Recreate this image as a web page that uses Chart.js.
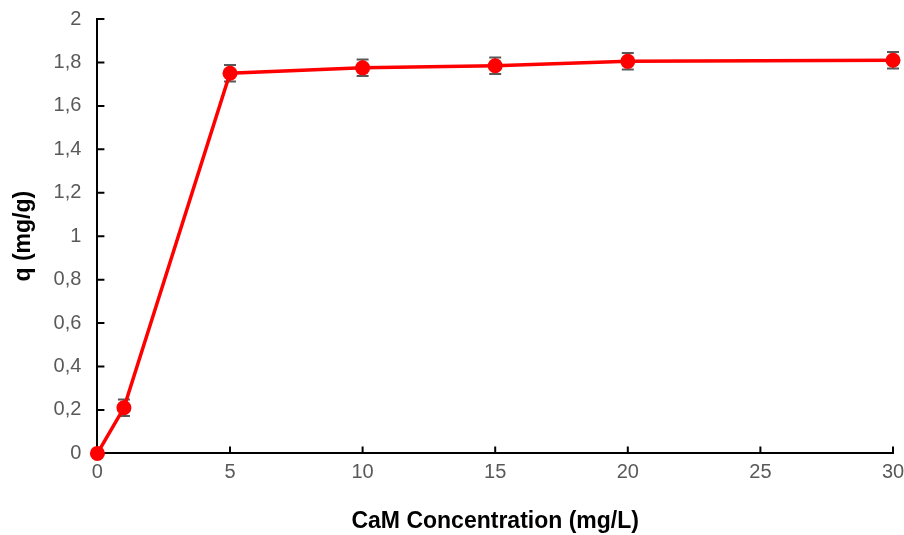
<!DOCTYPE html>
<html>
<head>
<meta charset="utf-8">
<script src="https://cdn.jsdelivr.net/npm/chart.js@4.4.1/dist/chart.umd.min.js"></script>
<style>
  html, body { margin: 0; padding: 0; background: #fff; }
  #wrap { width: 904px; height: 535px; }
</style>
</head>
<body>
<div id="wrap"><canvas id="chart"></canvas></div>
<script>
const concentrations = [0, 1, 5, 10, 15, 20, 30];
const qValues = [0, 0.21, 1.75, 1.775, 1.785, 1.805, 1.81];
const qErrors = [0, 0.038, 0.038, 0.038, 0.038, 0.038, 0.038];
const xTicks = [0, 5, 10, 15, 20, 25, 30];
const yTicks = [0, 0.2, 0.4, 0.6, 0.8, 1, 1.2, 1.4, 1.6, 1.8, 2];

// error bars + inside tick marks
const extras = {
  id: 'extras',
  beforeDatasetsDraw(chart) {
    const ctx = chart.ctx;
    const xs = chart.scales.x, ys = chart.scales.y;
    ctx.save();
    ctx.strokeStyle = '#595959';
    ctx.lineWidth = 2;
    concentrations.forEach((c, i) => {
      if (!qErrors[i]) return;
      const px = xs.getPixelForValue(c);
      const top = ys.getPixelForValue(qValues[i] + qErrors[i]);
      const bot = ys.getPixelForValue(qValues[i] - qErrors[i]);
      ctx.beginPath();
      ctx.moveTo(px, top); ctx.lineTo(px, bot);
      ctx.moveTo(px - 6, top); ctx.lineTo(px + 6, top);
      ctx.moveTo(px - 6, bot); ctx.lineTo(px + 6, bot);
      ctx.stroke();
    });
    ctx.strokeStyle = '#000';
    ctx.lineWidth = 2;
    const area = chart.chartArea;
    ctx.beginPath();
    xTicks.forEach(v => {
      const px = xs.getPixelForValue(v);
      ctx.moveTo(px, area.bottom); ctx.lineTo(px, area.bottom - 7);
    });
    yTicks.forEach(v => {
      const py = ys.getPixelForValue(v);
      ctx.moveTo(area.left, py); ctx.lineTo(area.left + 7, py);
    });
    ctx.stroke();
    ctx.restore();
  }
};

const ctx = document.getElementById('chart').getContext('2d');
new Chart(ctx, {
  type: 'line',
  data: {
    datasets: [{
      data: concentrations.map((c, i) => ({ x: c, y: qValues[i] })),
      borderColor: '#ff0000',
      backgroundColor: '#ff0000',
      borderWidth: 3.5,
      pointRadius: 7.5,
      pointHoverRadius: 7.5,
      pointBorderWidth: 0,
      tension: 0,
      clip: false
    }]
  },
  options: {
    responsive: true,
    maintainAspectRatio: false,
    animation: false,
    layout: { padding: { top: 19, right: 11, left: 10, bottom: 0 } },
    plugins: {
      legend: { display: false },
      tooltip: { enabled: false }
    },
    scales: {
      x: {
        type: 'linear',
        min: 0,
        max: 30,
        afterBuildTicks: s => { s.ticks = xTicks.map(v => ({ value: v })); },
        afterFit: s => { s.paddingLeft = 0; s.paddingRight = 0; },
        grid: { display: false, drawTicks: false },
        border: { display: true, color: '#000', width: 2 },
        ticks: {
          color: '#595959',
          font: { family: 'Liberation Sans, Arial', size: 20 },
          padding: 7
        },
        title: {
          display: true,
          text: 'CaM Concentration (mg/L)',
          color: '#000',
          font: { family: 'Liberation Sans, Arial', size: 23, weight: 'bold' },
          padding: { top: 16, bottom: 0 }
        }
      },
      y: {
        min: 0,
        max: 2,
        afterBuildTicks: s => { s.ticks = yTicks.map(v => ({ value: v })); },
        afterFit: s => { s.paddingTop = 0; s.paddingBottom = 0; },
        grid: { display: false, drawTicks: false },
        border: { display: true, color: '#000', width: 2 },
        ticks: {
          color: '#595959',
          font: { family: 'Liberation Sans, Arial', size: 20 },
          padding: 16,
          callback: v => String(Math.round(v * 10) / 10).replace('.', ',')
        },
        title: {
          display: true,
          text: 'q (mg/g)',
          color: '#000',
          font: { family: 'Liberation Sans, Arial', size: 23, weight: 'bold' },
          padding: { top: 0, bottom: 0 }
        }
      }
    }
  },
  plugins: [extras]
});
</script>
</body>
</html>
